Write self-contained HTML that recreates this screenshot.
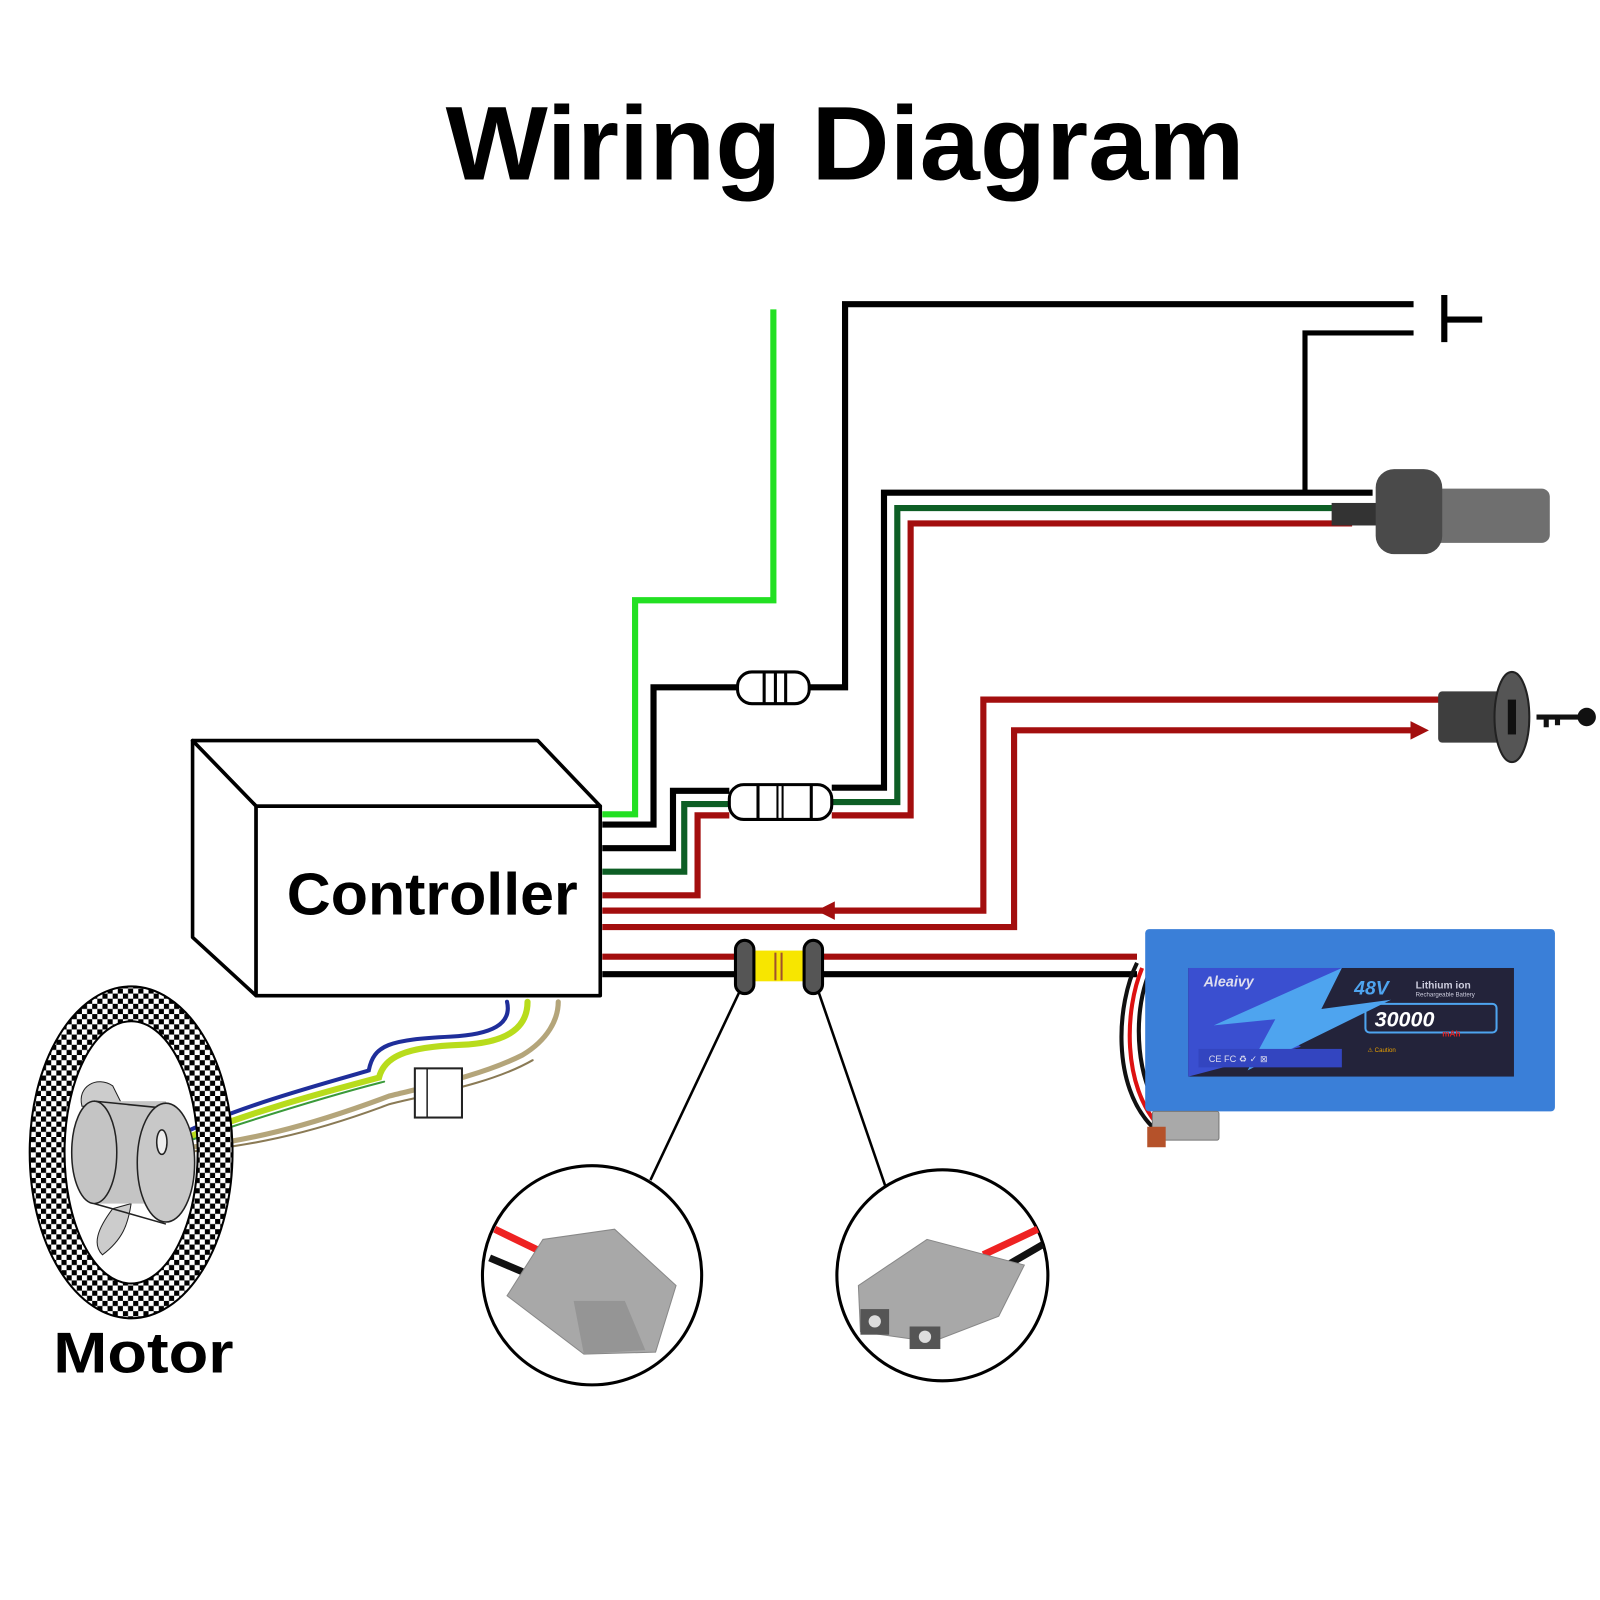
<!DOCTYPE html>
<html><head><meta charset="utf-8"><style>html,body{margin:0;padding:0;background:#fff}svg{display:block}</style></head>
<body>
<svg width="1600" height="1600" viewBox="0 0 1562 1562" xmlns="http://www.w3.org/2000/svg">
<defs>
<pattern id="chk" width="10" height="10" patternUnits="userSpaceOnUse">
<rect width="10" height="10" fill="#fff"/><rect width="5" height="5" fill="#000"/><rect x="5" y="5" width="5" height="5" fill="#000"/>
</pattern>
</defs>
<rect width="1562" height="1562" fill="#fff"/>
<text x="825" y="175" text-anchor="middle" font-family="Liberation Sans, sans-serif" font-weight="bold" font-size="102" textLength="780" lengthAdjust="spacingAndGlyphs" fill="#000">Wiring Diagram</text>

<g fill="none" stroke-linejoin="miter">
<!-- green -->
<polyline points="755,302 755,586 620,586 620,795 588,795" stroke="#22e022" stroke-width="6"/>
<!-- black brake 1 -->
<polyline points="1380,297 825,297 825,671 790,671" stroke="#000" stroke-width="6"/>
<polyline points="720,671 638,671 638,805 588,805" stroke="#000" stroke-width="6"/>
<!-- brake 2 -->
<polyline points="1380,325 1274,325 1274,481" stroke="#000" stroke-width="5"/>
<!-- throttle wires right -->
<polyline points="1340,481 863,481 863,769 812,769" stroke="#000" stroke-width="6"/>
<polyline points="1320,496 876,496 876,783 812,783" stroke="#0d5e25" stroke-width="6"/>
<polyline points="1320,511 889,511 889,796 812,796" stroke="#a30e0e" stroke-width="6"/>
<!-- throttle wires left -->
<polyline points="712,772 657,772 657,828 588,828" stroke="#000" stroke-width="6"/>
<polyline points="712,785 668,785 668,851 588,851" stroke="#0d5e25" stroke-width="6"/>
<polyline points="712,796 681,796 681,874 588,874" stroke="#a30e0e" stroke-width="6"/>
<!-- key wires -->
<polyline points="1405,683 960,683 960,889 588,889" stroke="#a30e0e" stroke-width="6"/>
<polyline points="1385,713 990,713 990,905 588,905" stroke="#a30e0e" stroke-width="6"/>
<!-- battery wires -->
<line x1="588" y1="934" x2="1110" y2="934" stroke="#a30e0e" stroke-width="6"/>
<line x1="588" y1="951" x2="1110" y2="951" stroke="#000" stroke-width="6"/>
</g>
<polygon points="797,889 815,880 815,898" fill="#a30e0e"/>
<polygon points="1395,713 1377,704 1377,722" fill="#a30e0e"/>

<!-- resistors -->
<rect x="720" y="656" width="70" height="31" rx="14" fill="#fff" stroke="#000" stroke-width="3"/>
<line x1="746" y1="657" x2="746" y2="686" stroke="#000" stroke-width="3"/>
<line x1="757" y1="657" x2="757" y2="686" stroke="#000" stroke-width="3"/>
<line x1="767" y1="657" x2="767" y2="686" stroke="#000" stroke-width="3"/>
<rect x="712" y="766" width="100" height="34" rx="14" fill="#fff" stroke="#000" stroke-width="3"/>
<line x1="740" y1="767" x2="740" y2="799" stroke="#000" stroke-width="3"/>
<line x1="759" y1="767" x2="759" y2="799" stroke="#000" stroke-width="2"/>
<line x1="764" y1="767" x2="764" y2="799" stroke="#000" stroke-width="2"/>
<line x1="792" y1="767" x2="792" y2="799" stroke="#000" stroke-width="3"/>

<!-- battery connector -->
<rect x="730" y="928" width="62" height="30" fill="#f7e600"/>
<line x1="757" y1="930" x2="757" y2="957" stroke="#a0522d" stroke-width="2"/>
<line x1="763" y1="930" x2="763" y2="957" stroke="#a0522d" stroke-width="2"/>
<rect x="718" y="918" width="18" height="52" rx="9" fill="#555" stroke="#000" stroke-width="3"/>
<rect x="785" y="918" width="18" height="52" rx="9" fill="#555" stroke="#000" stroke-width="3"/>
<line x1="722" y1="968" x2="635" y2="1152" stroke="#000" stroke-width="2.5"/>
<line x1="799" y1="968" x2="865" y2="1160" stroke="#000" stroke-width="2.5"/>

<!-- controller -->
<g stroke="#000" stroke-width="3.5" fill="#fff" stroke-linejoin="round">
<polygon points="188,723 525,723 586,787 250,787"/>
<polygon points="188,723 250,787 250,972 188,915"/>
<rect x="250" y="787" width="336" height="185"/>
</g>
<text x="422" y="893" text-anchor="middle" font-family="Liberation Sans, sans-serif" font-weight="bold" font-size="58" textLength="284" lengthAdjust="spacingAndGlyphs">Controller</text>

<!-- brake switch -->
<line x1="1410" y1="288" x2="1410" y2="334" stroke="#000" stroke-width="6"/>
<line x1="1410" y1="312" x2="1447" y2="312" stroke="#000" stroke-width="6"/>

<!-- throttle -->
<rect x="1300" y="491" width="50" height="22" fill="#333"/>
<rect x="1395" y="477" width="118" height="53" rx="8" fill="#6f6f6f"/>
<rect x="1343" y="458" width="65" height="83" rx="18" fill="#4a4a4a"/>

<!-- key switch -->
<rect x="1404" y="675" width="62" height="50" rx="4" fill="#3e3e3e"/>
<ellipse cx="1476" cy="700" rx="17" ry="44" fill="#555" stroke="#222" stroke-width="2"/>
<rect x="1472" y="683" width="8" height="34" fill="#111"/>
<line x1="1500" y1="700" x2="1545" y2="700" stroke="#111" stroke-width="5"/>
<circle cx="1549" cy="700" r="9" fill="#111"/>
<rect x="1507" y="700" width="5" height="10" fill="#111"/>
<rect x="1518" y="700" width="5" height="8" fill="#111"/>

<!-- battery -->
<path d="M1110,940 C1090,980 1085,1060 1125,1100" stroke="#111" stroke-width="4" fill="none"/>
<path d="M1115,945 C1098,985 1095,1060 1132,1100" stroke="#d11" stroke-width="4" fill="none"/>
<path d="M1122,950 C1105,990 1108,1060 1140,1095" stroke="#111" stroke-width="4" fill="none"/>
<rect x="1118" y="907" width="400" height="178" rx="4" fill="#3a7fd8"/>
<rect x="1160" y="945" width="318" height="106" fill="#23233a"/>
<polygon points="1160,945 1310,945 1255,1010 1270,1022 1160,1051" fill="#3a4fd0"/>
<polygon points="1310,945 1185,1001 1245,995 1218,1045 1358,976 1290,985" fill="#4ea4ef"/>
<rect x="1170" y="1024" width="140" height="18" fill="#3345c0"/>
<text x="1175" y="963" font-family="Liberation Sans, sans-serif" font-weight="bold" font-style="italic" font-size="14" fill="#dde">Aleaivy</text>
<text x="1322" y="971" font-family="Liberation Sans, sans-serif" font-weight="bold" font-style="italic" font-size="19" fill="#4ea4ef">48V</text>
<text x="1382" y="965" font-family="Liberation Sans, sans-serif" font-weight="bold" font-size="10" fill="#ccd">Lithium  ion</text>
<text x="1382" y="973" font-family="Liberation Sans, sans-serif" font-size="6" fill="#ccd">Rechargeable Battery</text>
<rect x="1333" y="980" width="128" height="28" rx="4" fill="none" stroke="#4ea4ef" stroke-width="2"/>
<text x="1342" y="1002" font-family="Liberation Sans, sans-serif" font-weight="bold" font-style="italic" font-size="21" fill="#fff">30000</text>
<text x="1408" y="1012" font-family="Liberation Sans, sans-serif" font-weight="bold" font-size="8" fill="#d22">mAh</text>
<text x="1180" y="1037" font-family="Liberation Sans, sans-serif" font-size="9" fill="#dde">CE FC ♻ ✓ ⊠</text>
<text x="1335" y="1027" font-family="Liberation Sans, sans-serif" font-size="6" fill="#e8a000">⚠ Caution</text>
<rect x="1125" y="1085" width="65" height="28" rx="2" fill="#a9a9a9" stroke="#777"/>
<rect x="1120" y="1100" width="18" height="20" fill="#b5522a"/>

<!-- motor wires -->
<g fill="none" stroke-linecap="round">
<path d="M160,1115 C230,1080 310,1060 360,1045 C365,1020 380,1015 440,1012 C480,1010 500,1000 495,978" stroke="#1f2e9a" stroke-width="4"/>
<path d="M165,1118 C235,1088 310,1068 370,1052 C375,1032 395,1022 450,1020 C500,1018 515,1000 515,978" stroke="#b8dc1c" stroke-width="6"/>
<path d="M165,1120 C240,1095 320,1070 375,1056" stroke="#3a9a3a" stroke-width="2"/>
<path d="M168,1122 C240,1115 300,1100 380,1070 C420,1060 470,1050 510,1030 C535,1015 545,995 545,978" stroke="#b4a57a" stroke-width="5"/>
<path d="M168,1126 C240,1120 300,1108 380,1078 C420,1068 480,1058 520,1035" stroke="#8a7a55" stroke-width="2"/>
</g>
<rect x="405" y="1043" width="46" height="48" fill="#fff" stroke="#222" stroke-width="2"/>
<line x1="417" y1="1043" x2="417" y2="1091" stroke="#222" stroke-width="1.5"/>

<!-- motor -->
<ellipse cx="128" cy="1125" rx="82" ry="145" fill="none" stroke="url(#chk)" stroke-width="34"/>
<ellipse cx="128" cy="1125" rx="99" ry="162" fill="none" stroke="#000" stroke-width="2"/>
<ellipse cx="128" cy="1125" rx="65" ry="128" fill="none" stroke="#000" stroke-width="2"/>
<path d="M110,1180 C95,1200 90,1215 100,1225 C120,1210 125,1195 128,1175 Z" fill="#ccc" stroke="#222"/>
<path d="M80,1080 C75,1060 95,1050 110,1060 L120,1080 Z" fill="#ccc" stroke="#222"/>
<rect x="92" y="1075" width="70" height="100" fill="#c4c4c4"/>
<ellipse cx="92" cy="1125" rx="22" ry="50" fill="#c4c4c4" stroke="#222" stroke-width="1.5"/>
<line x1="92" y1="1075" x2="162" y2="1082" stroke="#222" stroke-width="1.5"/>
<line x1="92" y1="1175" x2="162" y2="1195" stroke="#222" stroke-width="1.5"/>
<ellipse cx="162" cy="1135" rx="28" ry="58" fill="#c8c8c8" stroke="#222" stroke-width="1.5"/>
<ellipse cx="158" cy="1115" rx="5" ry="12" fill="#eee" stroke="#222" stroke-width="1.5"/>
<text x="52" y="1340" font-family="Liberation Sans, sans-serif" font-weight="bold" font-size="56" textLength="176" lengthAdjust="spacingAndGlyphs">Motor</text>

<!-- callout circles -->
<circle cx="578" cy="1245" r="107" fill="#fff" stroke="#000" stroke-width="3"/>
<line x1="483" y1="1200" x2="545" y2="1230" stroke="#e22" stroke-width="7"/>
<line x1="478" y1="1228" x2="530" y2="1250" stroke="#111" stroke-width="7"/>
<polygon points="530,1210 600,1200 660,1255 640,1320 570,1322 495,1265" fill="#a8a8a8" stroke="#888"/>
<polygon points="560,1270 610,1270 630,1318 570,1322" fill="#959595"/>
<circle cx="920" cy="1245" r="103" fill="#fff" stroke="#000" stroke-width="3"/>
<line x1="1013" y1="1200" x2="960" y2="1225" stroke="#e22" stroke-width="7"/>
<line x1="1018" y1="1215" x2="975" y2="1240" stroke="#111" stroke-width="7"/>
<polygon points="838,1255 905,1210 1000,1235 975,1285 910,1310 840,1300" fill="#a8a8a8" stroke="#888"/>
<rect x="840" y="1278" width="28" height="25" fill="#555"/>
<rect x="888" y="1295" width="30" height="22" fill="#555"/>
<circle cx="854" cy="1290" r="6" fill="#ddd"/>
<circle cx="903" cy="1305" r="6" fill="#ddd"/>
</svg>
</body></html>
